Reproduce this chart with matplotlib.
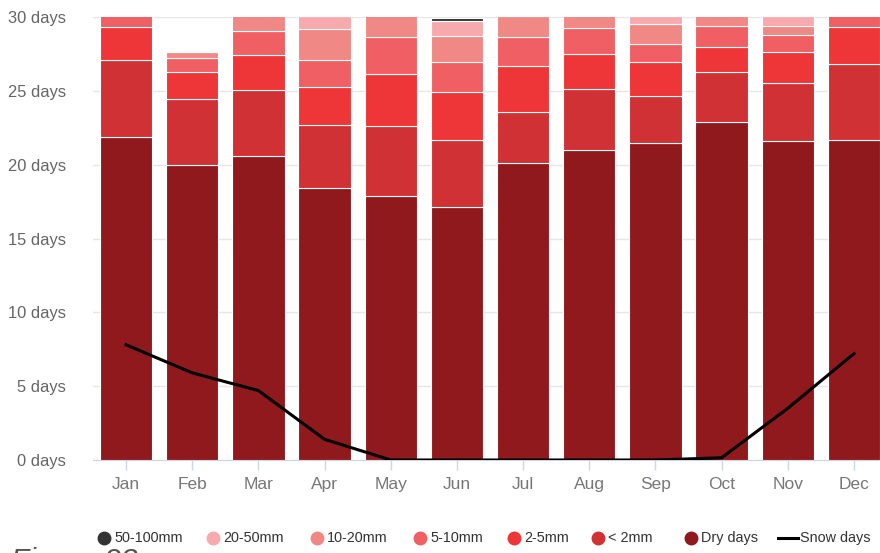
import matplotlib.pyplot as plt
import numpy as np
from matplotlib.lines import Line2D

# Monthly precipitation days
months = ['Jan', 'Feb', 'Mar', 'Apr', 'May', 'Jun', 'Jul', 'Aug', 'Sep', 'Oct', 'Nov', 'Dec']
dry_days = [21.9, 20.0, 20.6, 18.4, 17.9, 17.1, 20.1, 21.0, 21.5, 22.9, 21.6, 21.7]
lt_2mm = [5.2, 4.45, 4.45, 4.3, 4.75, 4.55, 3.5, 4.15, 3.15, 3.4, 3.9, 5.1]
mm_2_5 = [2.2, 1.85, 2.35, 2.55, 3.5, 3.25, 3.1, 2.35, 2.3, 1.65, 2.15, 2.5]
mm_5_10 = [1.2, 0.9, 1.65, 1.85, 2.5, 2.05, 1.95, 1.75, 1.2, 1.45, 1.15, 1.2]
mm_10_20 = [0.4, 0.45, 1.3, 2.1, 1.6, 1.75, 1.4, 1.2, 1.35, 1.2, 0.6, 0.4]
mm_20_50 = [0.1, 0.0, 0.6, 0.85, 0.7, 1.05, 0.3, 0.4, 0.6, 0.4, 0.7, 0.1]
mm_50_100 = [0.0, 0.0, 0.0, 0.0, 0.0, 0.2, 0.0, 0.0, 0.0, 0.0, 0.0, 0.0]
snow_days = [7.8, 5.9, 4.7, 1.4, 0.0, 0.0, 0.0, 0.0, 0.0, 0.15, 3.5, 7.2]

series = [
    ('Dry days', dry_days, '#8f191c'),
    ('< 2mm', lt_2mm, '#d03134'),
    ('2-5mm', mm_2_5, '#ee3537'),
    ('5-10mm', mm_5_10, '#f05f64'),
    ('10-20mm', mm_10_20, '#f08886'),
    ('20-50mm', mm_20_50, '#f7aaad'),
    ('50-100mm', mm_50_100, '#333333'),
]

plt.rcParams['font.family'] = ['Liberation Sans', 'DejaVu Sans']

fig = plt.figure(figsize=(8.8, 5.53), dpi=100)
ax = fig.add_axes([93 / 880, 93 / 553, 794 / 880, 443 / 553])

x = np.arange(len(months))
bottom = np.zeros(len(months))
for name, vals, col in series:
    ax.bar(x, vals, width=0.79, bottom=bottom, color=col, edgecolor='white', linewidth=0.8, zorder=2)
    bottom = bottom + np.array(vals)

# snow days line
ax.plot(x, snow_days, color='black', linewidth=2.2, zorder=3, solid_joinstyle='round')

ax.set_xlim(-0.5, 11.5)
ax.set_ylim(0, 30)
ax.set_yticks(np.arange(0, 31, 5))
ax.set_yticklabels([f'{v} days' for v in range(0, 31, 5)])
ax.set_xticks(x)
ax.set_xticklabels(months)

ax.yaxis.grid(True, color='#e6e6e6', linewidth=1)
ax.set_axisbelow(True)
for s in ['top', 'right', 'left']:
    ax.spines[s].set_visible(False)
ax.spines['bottom'].set_color('#ccd6eb')
ax.spines['bottom'].set_zorder(1)
ax.tick_params(axis='y', length=0, pad=19.5, labelsize=11.9, labelcolor='#666666')
ax.tick_params(axis='x', length=7, width=1, color='#ccd6eb', pad=5, labelsize=12.5, labelcolor='#777777')

# legend drawn by hand along the bottom
leg_font = ['Liberation Sans Narrow', 'Liberation Sans', 'DejaVu Sans']
leg_y = 1 - 538 / 553
leg_x = [104, 213, 317, 420, 514, 598, 691]
for (name, vals, col), px in zip(series[::-1], leg_x):
    fig.add_artist(Line2D([px / 880], [leg_y], marker='o', markersize=9, color=col,
                          linestyle='none', transform=fig.transFigure))
    fig.text((px + 10) / 880, leg_y, name, fontsize=10.4, color='#333333', va='center', ha='left',
             family=leg_font)
fig.add_artist(Line2D([778 / 880, 798 / 880], [leg_y, leg_y], color='black', linewidth=2.2,
                      transform=fig.transFigure))
fig.text(800 / 880, leg_y, 'Snow days', fontsize=10.4, color='#333333', va='center', ha='left',
         family=leg_font)

# caption, cut off by the bottom edge like in the original
fig.text(11 / 880, -16 / 553, 'Figure 23', fontsize=21.6, style='italic', color='#555555',
         va='baseline', ha='left')

fig.savefig('out.png', dpi=100)
